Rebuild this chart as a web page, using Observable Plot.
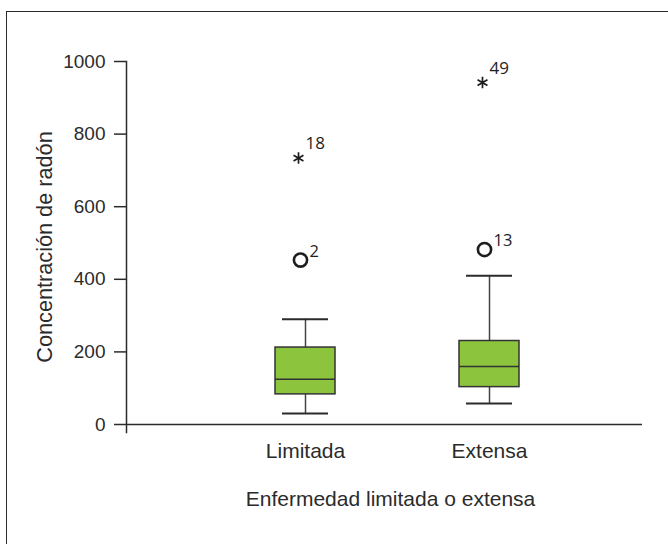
<!DOCTYPE html>
<html>
<head>
<meta charset="utf-8">
<script src="https://cdn.jsdelivr.net/npm/d3@7"></script>
<script src="https://cdn.jsdelivr.net/npm/@observablehq/plot@0.6"></script>
<style>
  html, body { margin: 0; padding: 0; background: #fff; overflow: hidden; }
  #wrap { position: relative; width: 668px; height: 544px; overflow: hidden; }
  #border { position: absolute; left: 6px; top: 11px; width: 800px; height: 700px; border: 1.5px solid #2a2a2a; box-sizing: border-box; }
  #chart { position: absolute; left: 0; top: 0; }
</style>
</head>
<body>
<div id="wrap"><div id="border"></div><div id="chart"></div></div>
<script>
// Data
const groups = ["Limitada", "Extensa"];
const lowerWhisker = [30, 58];
const q1 = [83, 103];
const median = [125, 160];
const q3 = [212, 230];
const upperWhisker = [290, 410];

const outlierGroup = ["Limitada", "Extensa"];
const outlierValue = [453, 482];      // mild outliers (o)
const outlierCase = ["2", "13"];

const extremeGroup = ["Limitada", "Extensa"];
const extremeValue = [734, 942];      // extreme outliers (*)
const extremeCase = ["18", "49"];

const yTicks = [0, 200, 400, 600, 800, 1000];

const boxes = groups.map((g, i) => ({
  group: g, lo: lowerWhisker[i], q1: q1[i], median: median[i], q3: q3[i], hi: upperWhisker[i]
}));
const mild = outlierGroup.map((g, i) => ({group: g, value: outlierValue[i], label: outlierCase[i]}));
const extreme = extremeGroup.map((g, i) => ({group: g, value: extremeValue[i], label: extremeCase[i]}));

const ink = "#2b2b2b";
const chart = Plot.plot({
  width: 668,
  height: 544,
  marginLeft: 126,
  marginRight: 26,
  marginTop: 61,
  marginBottom: 112,
  style: {fontFamily: "'Liberation Sans', Arial, sans-serif", color: ink, background: "transparent"},
  x: {type: "band", domain: groups, range: [213, 581], padding: 0, label: null},
  y: {domain: [0, 1000], range: [424, 61], label: null},
  marks: [
    Plot.frame({anchor: "left", stroke: ink, strokeWidth: 1.5}),
    Plot.ruleY([0], {stroke: ink, strokeWidth: 1.5}),
    Plot.axisY({ticks: yTicks, tickFormat: d3.format("d"), tickSize: 12, tickPadding: 9, fontSize: 19, label: null, strokeWidth: 1.5}),
    Plot.axisX({tickSize: 0, tickPadding: 11, fontSize: 21, label: null}),
    Plot.text(["Concentración de radón"], {frameAnchor: "left", textAnchor: "middle", lineAnchor: "middle", rotate: -90, dx: -81, fontSize: 21.7, fill: ink}),
    Plot.text(["Enfermedad limitada o extensa"], {frameAnchor: "bottom", textAnchor: "middle", lineAnchor: "middle", dx: 6, dy: 67, fontSize: 21, fill: ink}),
    // whiskers
    Plot.ruleX(boxes, {x: "group", y1: "lo", y2: "q1", stroke: "#444", strokeWidth: 1.5}),
    Plot.ruleX(boxes, {x: "group", y1: "q3", y2: "hi", stroke: "#444", strokeWidth: 1.5}),
    Plot.tickY(boxes, {x: "group", y: "lo", stroke: ink, strokeWidth: 2, insetLeft: 69, insetRight: 69}),
    Plot.tickY(boxes, {x: "group", y: "hi", stroke: ink, strokeWidth: 2, insetLeft: 69, insetRight: 69}),
    // boxes
    Plot.barY(boxes, {x: "group", y1: "q1", y2: "q3", fill: "#8cc43e", stroke: "#333", strokeWidth: 1.5, insetLeft: 62, insetRight: 62}),
    Plot.tickY(boxes, {x: "group", y: "median", stroke: "#333", strokeWidth: 1.5, insetLeft: 62, insetRight: 62}),
    // outliers
    Plot.dot(mild, {x: "group", y: "value", symbol: "circle", r: 6.6, stroke: "#1e1e1e", strokeWidth: 2.6, dx: -5}),
    Plot.text(mild, {x: "group", y: "value", text: "label", textAnchor: "start", dx: 4, dy: -8.5, fontSize: 16.5, fontFamily: "'Open Sans', sans-serif", fill: "#1e1e1e"}),
    Plot.dot(extreme, {x: "group", y: "value", symbol: "asterisk", r: 5.4, stroke: "#1e1e1e", strokeWidth: 1.7, dx: -7}),
    Plot.text(extreme, {x: "group", y: "value", text: "label", textAnchor: "start", dx: 0, dy: -14.5, fontSize: 17, fontFamily: "'Open Sans', sans-serif", fill: "#1e1e1e"})
  ]
});
document.getElementById("chart").appendChild(chart);
</script>
</body>
</html>
